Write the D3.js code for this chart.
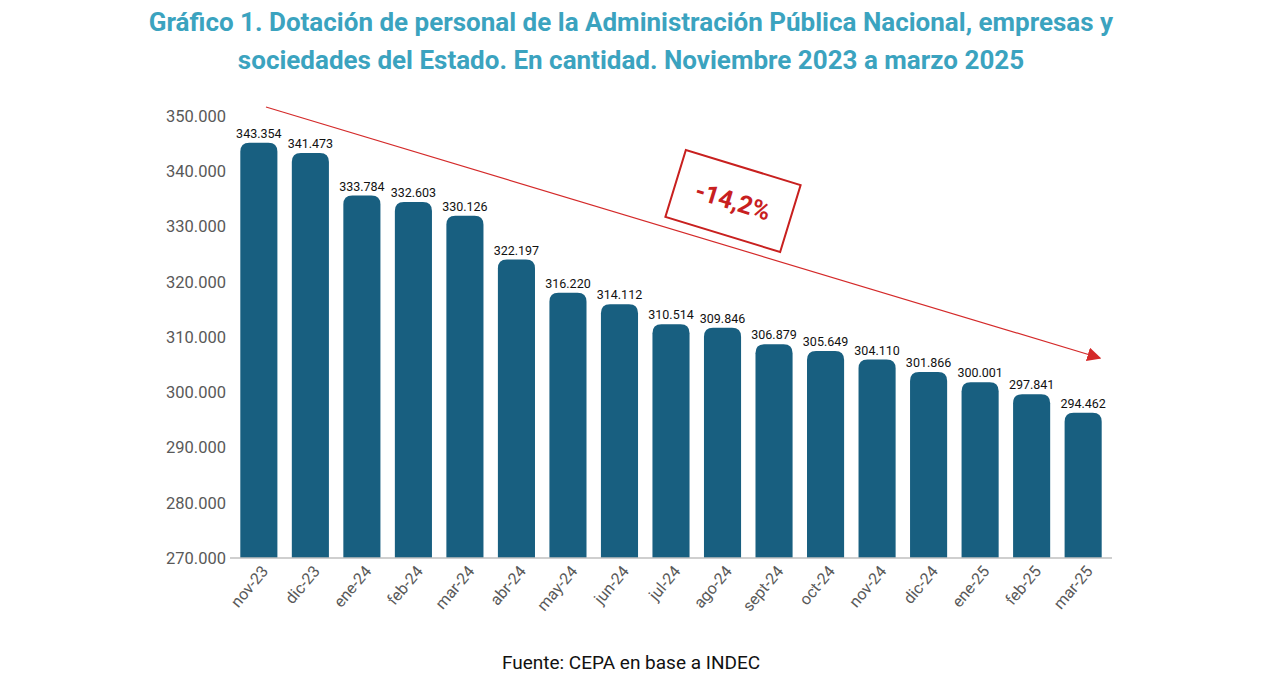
<!DOCTYPE html>
<html><head><meta charset="utf-8">
<script src="https://cdn.jsdelivr.net/npm/d3@7"></script>
<style>body{margin:0;background:#fff;font-family:Roboto,"Noto Sans",sans-serif}</style>
</head><body><div id="chart"></div>
<script>
const months = ["nov-23","dic-23","ene-24","feb-24","mar-24","abr-24","may-24","jun-24","jul-24","ago-24","sept-24","oct-24","nov-24","dic-24","ene-25","feb-25","mar-25"]
const values = [343354,341473,333784,332603,330126,322197,316220,314112,310514,309846,306879,305649,304110,301866,300001,297841,294462]
const yTicks = [270000,280000,290000,300000,310000,320000,330000,340000,350000]
const titleLines = ["Gráfico 1. Dotación de personal de la Administración Pública Nacional, empresas y","sociedades del Estado. En cantidad. Noviembre 2023 a marzo 2025"]

const width = 1280, height = 684
const fmt = v => d3.format(",")(v).replace(/,/g, ".")
const svg = d3.select("#chart").append("svg").attr("width", width).attr("height", height)

svg.selectAll(".title").data(titleLines).join("text")
    .attr("x", 631).attr("y", (d, i) => 31 + i * 38)
    .attr("text-anchor", "middle").attr("fill", "#3ba3bf")
    .attr("font-size", 26).attr("font-weight", "bold").text(d => d)

const x = d3.scaleBand().domain(months).range([230, 1112]).paddingInner(0.28).paddingOuter(0.2)
const y = d3.scaleLinear().domain([270000, 350000]).range([548, 106])
const base = 558

// y axis labels (slightly offset like the original)
svg.append("g").selectAll("text").data(yTicks).join("text")
    .attr("x", 226).attr("y", d => y(d) + 10).attr("dy", "0.35em")
    .attr("text-anchor", "end").attr("fill", "#595959").attr("font-size", 16.5)
    .text(fmt)

// bars with rounded top
const r = 9
svg.append("g").selectAll("path").data(values).join("path")
    .attr("fill", "#185f80")
    .attr("d", (d, i) => {
      const x0 = x(months[i]), w = x.bandwidth(), t = y(d)
      return `M${x0},${base}V${t + r}Q${x0},${t} ${x0 + r},${t}H${x0 + w - r}Q${x0 + w},${t} ${x0 + w},${t + r}V${base}Z`
    })

svg.append("g").selectAll("text").data(values).join("text")
    .attr("x", (d, i) => x(months[i]) + x.bandwidth() / 2).attr("y", d => y(d) - 5)
    .attr("text-anchor", "middle").attr("font-size", 12.5).attr("fill", "#111")
    .text(fmt)

svg.append("line").attr("x1", 230).attr("x2", 1112).attr("y1", base).attr("y2", base)
    .attr("stroke", "#bfbfbf").attr("stroke-width", 1.5)

svg.append("g").selectAll("text").data(months).join("text")
    .attr("transform", d => `translate(${x(d) + x.bandwidth() / 2 + 6},${base + 10}) rotate(-50)`)
    .attr("text-anchor", "end").attr("dy", "0.35em").attr("font-size", 16).attr("fill", "#595959")
    .text(d => d)

// trend arrow
svg.append("defs").append("marker").attr("id", "ah").attr("viewBox", "0 0 10 10")
    .attr("refX", 9).attr("refY", 5).attr("markerWidth", 14).attr("markerHeight", 14)
    .attr("markerUnits", "userSpaceOnUse").attr("orient", "auto")
    .append("path").attr("d", "M0,0L10,5L0,10Z").attr("fill", "#d42a2a")
svg.append("line").attr("x1", 266).attr("y1", 107).attr("x2", 1100).attr("y2", 358)
    .attr("stroke", "#d42a2a").attr("stroke-width", 1.2).attr("marker-end", "url(#ah)")

const box = svg.append("g").attr("transform", "translate(733,201) rotate(17)")
box.append("rect").attr("x", -60).attr("y", -35).attr("width", 120).attr("height", 70)
    .attr("fill", "#fff").attr("stroke", "#c8201f").attr("stroke-width", 2)
box.append("text").attr("text-anchor", "middle").attr("dy", "0.35em")
    .attr("font-size", 25).attr("font-weight", "bold").attr("fill", "#c8201f").text("-14,2%")

svg.append("text").attr("x", 631).attr("y", 669).attr("text-anchor", "middle")
    .attr("font-size", 19).attr("fill", "#111").text("Fuente: CEPA en base a INDEC")
</script></body></html>
